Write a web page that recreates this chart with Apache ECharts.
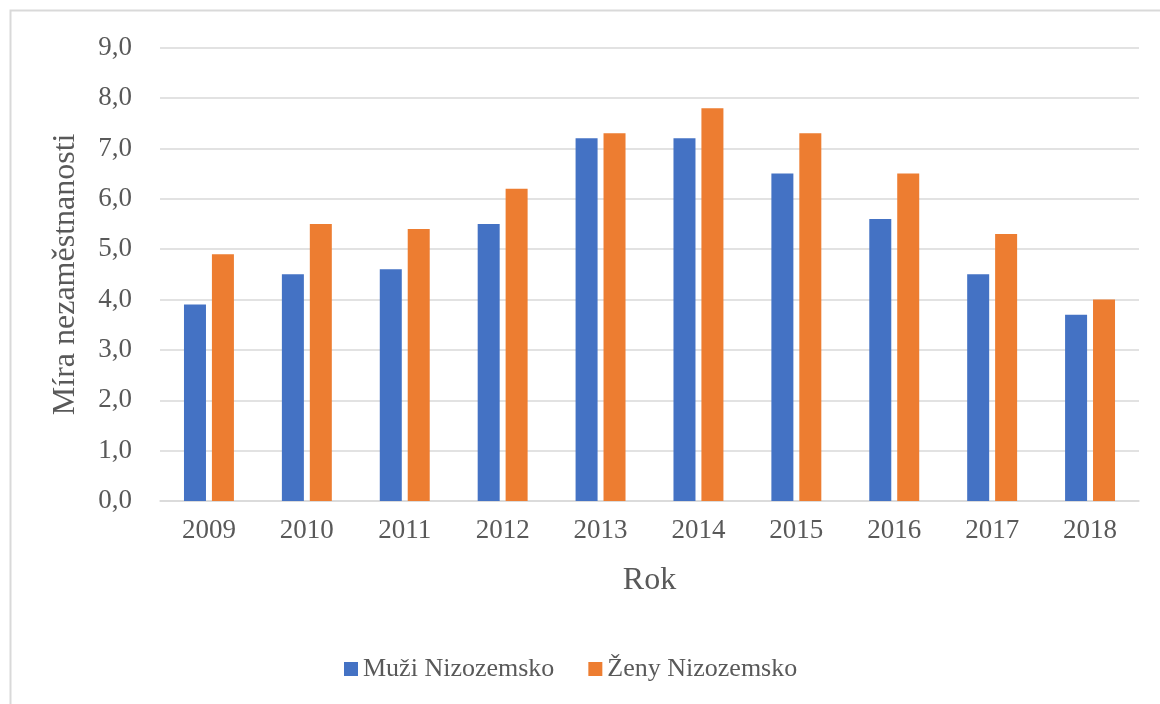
<!DOCTYPE html>
<html>
<head>
<meta charset="utf-8">
<script src="https://cdn.jsdelivr.net/npm/echarts@6/dist/echarts.min.js"></script>
<style>
html,body{margin:0;padding:0;background:#fff;}
#chart{width:1160px;height:704px;}
</style>
</head>
<body>
<div id="chart"></div>
<script>
const categories = ['2009','2010','2011','2012','2013','2014','2015','2016','2017','2018'];
const muzi = [3.9, 4.5, 4.6, 5.5, 7.2, 7.2, 6.5, 5.6, 4.5, 3.7];
const zeny = [4.9, 5.5, 5.4, 6.2, 7.3, 7.8, 7.3, 6.5, 5.3, 4.0];
const seriesNames = ['Muži Nizozemsko', 'Ženy Nizozemsko'];
const yAxisTitle = 'Míra nezaměstnanosti';
const xAxisTitle = 'Rok';

const serif = "'Liberation Serif', 'Times New Roman', serif";
const textColor = '#595959';

const chart = echarts.init(document.getElementById('chart'), null, {renderer: 'canvas'});
chart.setOption({
  animation: false,
  backgroundColor: '#ffffff',
  graphic: [{
    type: 'rect',
    shape: {x: 10.5, y: 10.5, width: 1300, height: 900},
    style: {fill: 'none', stroke: '#d9d9d9', lineWidth: 2},
    silent: true, z: -1
  }],
  grid: {left: 160, right: 21, top: 47.7, bottom: 203, containLabel: false},
  legend: {
    left: 339, top: 651,
    itemWidth: 14, itemHeight: 14, itemGap: 34,
    icon: 'rect',
    textStyle: {fontFamily: serif, fontSize: 26, color: textColor},
    data: seriesNames
  },
  xAxis: {
    type: 'category',
    data: categories,
    name: xAxisTitle,
    nameLocation: 'middle',
    nameGap: 64,
    nameTextStyle: {fontFamily: serif, fontSize: 32, color: textColor},
    axisLine: {lineStyle: {color: '#d9d9d9', width: 1.5}},
    axisTick: {show: false},
    axisLabel: {fontFamily: serif, fontSize: 27, color: textColor, margin: 16}
  },
  yAxis: {
    type: 'value',
    min: 0, max: 9, interval: 1,
    name: yAxisTitle,
    nameLocation: 'middle',
    nameGap: 78,
    nameTextStyle: {fontFamily: serif, fontSize: 32, color: textColor},
    axisLine: {show: false},
    axisTick: {show: false},
    axisLabel: {
      fontFamily: serif, fontSize: 27, color: textColor, margin: 28,
      formatter: v => v.toFixed(1).replace('.', ',')
    },
    splitLine: {lineStyle: {color: '#d9d9d9', width: 1.5}}
  },
  series: [
    {name: seriesNames[0], type: 'bar', data: muzi, itemStyle: {color: '#4472c4'},
     barWidth: 22, barGap: '27%', barCategoryGap: '49%'},
    {name: seriesNames[1], type: 'bar', data: zeny, itemStyle: {color: '#ed7d31'},
     barWidth: 22, barGap: '27%'}
  ]
});
</script>
</body>
</html>
